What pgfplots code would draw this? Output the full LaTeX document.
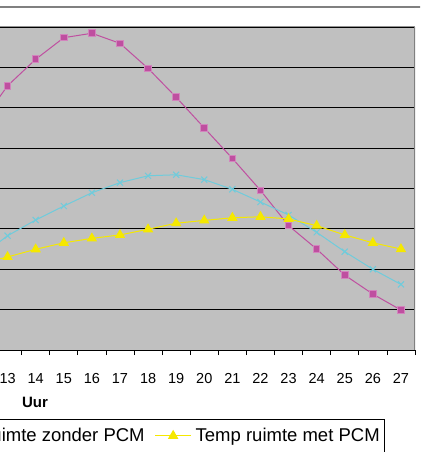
\documentclass[border=0pt]{standalone}
\usepackage{pgfplots}
\pgfplotsset{compat=1.18}
\usepackage{fontspec}
\setmainfont{Liberation Sans}
\definecolor{plotbg}{HTML}{C0C0C0}
\definecolor{magser}{HTML}{BF4FA0}
\definecolor{cyanser}{HTML}{6FCCDC}
\definecolor{yelser}{HTML}{F5E800}
\pgfplotstableread{
x buiten zonder met
12 27.14 20.61 20.26
13 29.09 21.66 20.61
14 30.40 22.44 20.99
15 31.47 23.13 21.31
16 31.69 23.79 21.53
17 31.19 24.29 21.70
18 29.95 24.63 21.98
19 28.52 24.68 22.28
20 27.00 24.44 22.42
21 25.49 23.96 22.55
22 23.91 23.33 22.60
23 22.16 22.69 22.49
24 21.00 21.83 22.16
25 19.71 20.87 21.70
26 18.77 20.00 21.31
27 17.98 19.25 21.00
}\tempdata
\begin{document}
\begin{tikzpicture}[x=1pt,y=1pt]
\useasboundingbox (0,0) rectangle (420,452);
\clip (0,0) rectangle (420,452);
\fill[white] (0,0) rectangle (420,452);
\draw[color=gray, line width=1.3pt] (-10,445) -- (430,445);
\begin{axis}[
  at={(0pt,102pt)}, anchor=south west,
  scale only axis, width=415pt, height=323pt,
  xmin=12.73, xmax=27.5, ymin=16, ymax=32,
  axis background/.style={fill=plotbg},
  separate axis lines,
  axis x line*=bottom,
  axis y line*=right,
  x axis line style={black, line width=0.8pt},
  y axis line style={draw=none},
  xtick={13,...,27},
  minor xtick={12.5,13.5,...,27.5},
  major x tick style={draw=none},
  minor x tick style={black, line width=0.8pt},
  minor tick length=5pt,
  tick align=outside,
  ytick={16,18,...,32},
  yticklabels={},
  major y tick style={draw=none},
  ymajorgrids,
  grid style={black, line width=0.8pt},
  /pgf/number format/assume math mode=true,
  xticklabel style={font=\fontsize{14.5}{16}\selectfont, anchor=base, yshift=-29pt},
  xlabel={Uur},
  xlabel style={font=\fontsize{15}{17}\selectfont\bfseries, at={(axis description cs:0.0843,-0.163)}, anchor=center},
  legend columns=-1,
  legend style={at={(axis description cs:0.9277,-0.2137)}, anchor=north east, draw=black, line width=0.6pt,
    font=\fontsize{18.5}{20}\selectfont, inner xsep=3pt, inner ysep=7pt,
    /tikz/every even column/.append style={column sep=8pt},
    /tikz/every odd column/.append style={column sep=2pt}},
  legend image code/.code={
    \draw[#1, mark repeat=2, mark phase=2] plot coordinates {(0pt,0pt) (18pt,0pt) (36pt,0pt)};
  },
  clip=true,
]
\addplot[magser, line width=1pt, mark=square*, mark size=3.3pt, mark options={fill=magser, draw=magser!70!white}] table[x=x, y=buiten] {\tempdata};
\addlegendentry{Buitentemperatuur}
\addplot[cyanser, line width=1pt, mark=x, mark size=4.3pt, mark options={line width=1pt}] table[x=x, y=zonder] {\tempdata};
\addlegendentry{Temp ruimte zonder PCM}
\addplot[yelser, line width=1pt, mark=triangle*, mark size=5pt, mark options={fill=yelser, draw=yelser}] table[x=x, y=met] {\tempdata};
\addlegendentry{Temp ruimte met PCM}
\draw[color=gray!85!white, line width=1pt] (rel axis cs:0,1) -- (rel axis cs:1,1);
\draw[color=gray, line width=1.2pt] (rel axis cs:1,0) -- (rel axis cs:1,1);
\end{axis}
\end{tikzpicture}
\end{document}
